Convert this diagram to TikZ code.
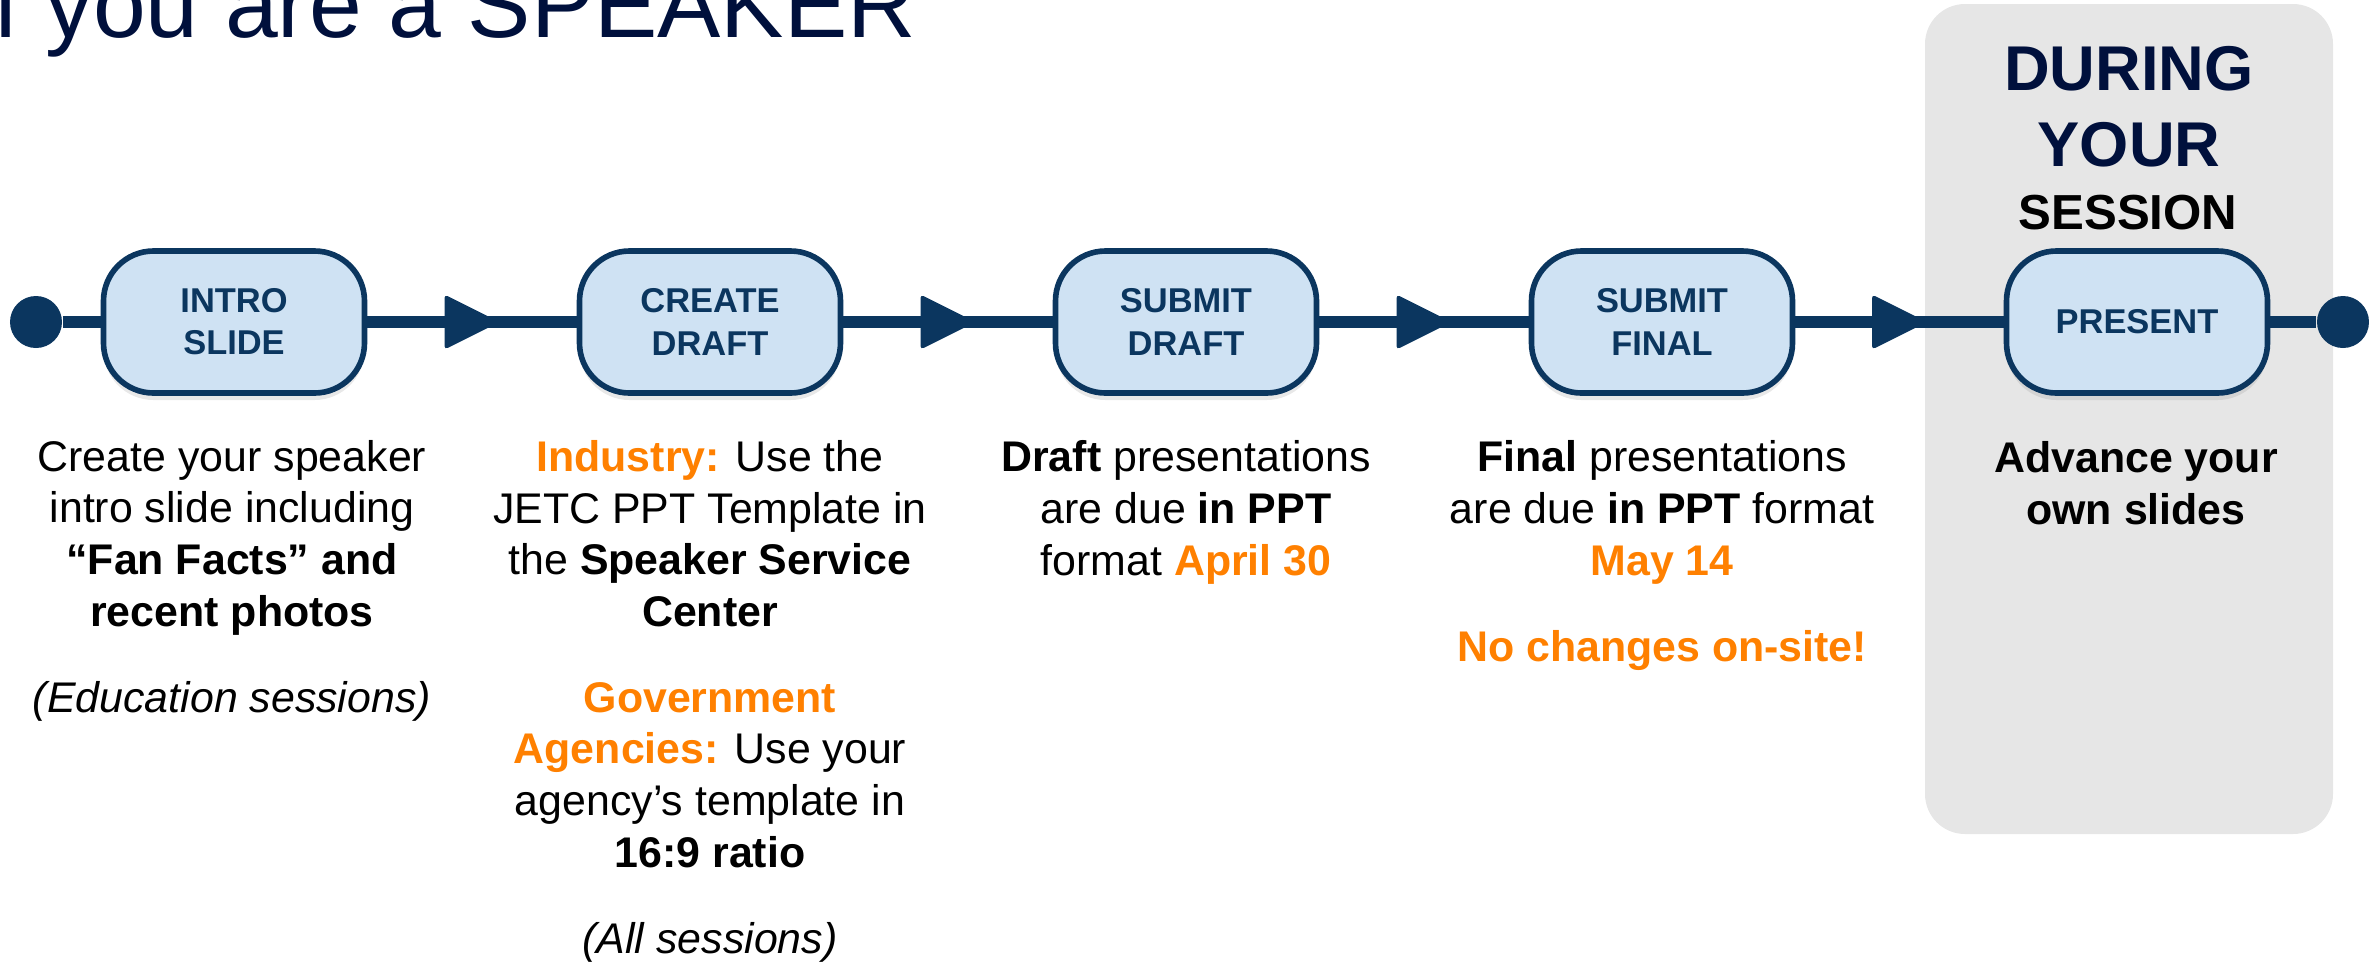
\documentclass[tikz,border=0pt]{standalone}
\usepackage{fontspec}
\setmainfont{Liberation Sans}
\usetikzlibrary{shadows,decorations.markings}
\definecolor{navy}{HTML}{0B365F}
\definecolor{boxfill}{HTML}{CFE2F3}
\definecolor{deadline}{HTML}{FF8000}
\definecolor{titlenavy}{HTML}{00103C}
\definecolor{panelgray}{HTML}{E6E6E6}

\begin{document}
\begin{tikzpicture}[
		stepbox/.style={draw=navy, line width=1.6pt, fill=boxfill, rounded corners=0.5cm, minimum width=2.61cm, minimum height=1.42cm, align=center, text=navy, font=\fontsize{9.8}{12}\selectfont\bfseries, drop shadow={shadow xshift=0cm, shadow yshift=-0.07cm, opacity=0.18}},
		enddot/.style={circle, fill=navy, minimum size=0.52cm, inner sep=0pt},
		track/.style={navy, line width=3.3pt},
		midarrow/.style={postaction={decorate}, decoration={markings, mark=at position 0.5 with {\fill[navy, rounded corners=1pt] (-0.275,-0.275) -- (0.275,0) -- (-0.275,0.275) -- cycle;}}},
		note/.style={align=center, anchor=base, inner sep=0pt, font=\fontsize{12.2}{14.7}\selectfont}]
		\useasboundingbox (0,0) rectangle (23.69,-9.66);
		\def\hi#1{{\color{deadline}\bfseries #1}}
		\fill[panelgray, rounded corners=0.4cm] (19.25,-0.04) rectangle (23.33,-8.34);
		\node[anchor=base west, inner sep=0pt, text=titlenavy, font=\fontsize{27}{32}\selectfont] (title) at (-0.34,-0.37) {If you are a SPEAKER};
		\node[align=center, anchor=base, inner sep=0pt, text=titlenavy, font=\fontsize{18}{21.6}\selectfont\bfseries] (during) at (21.29,-1.66) {DURING\\YOUR};
		\node[anchor=base, inner sep=0pt, font=\fontsize{14}{17}\selectfont\bfseries] (session) at (21.28,-2.29) {SESSION};
		\node[enddot] (dotL) at (0.36,-3.22) {};
		\node[enddot] (dotR) at (23.43,-3.22) {};
		\node[stepbox] (intro) at (2.34,-3.22) {INTRO\\SLIDE};
		\node[stepbox] (create) at (7.10,-3.22) {CREATE\\DRAFT};
		\node[stepbox] (subdraft) at (11.86,-3.22) {SUBMIT\\DRAFT};
		\node[stepbox] (subfinal) at (16.62,-3.22) {SUBMIT\\FINAL};
		\node[stepbox] (present) at (21.37,-3.22) {PRESENT};
		\draw[track] (dotL) -- (intro);
		\foreach \a/\b in {intro/create, create/subdraft, subdraft/subfinal, subfinal/present}
			\draw[track, midarrow] (\a) -- (\b);
		\draw[track] (present) -- (dotR);
		\node[note] (introtxt) at (2.32,-7.12) {Create your speaker\\intro slide including\\\textbf{“Fan Facts” and}\\\textbf{recent photos}\\[9.7pt]\textit{(Education sessions)}};
		\node[note] (createtxt) at (7.10,-9.53) {\hi{Industry:} Use the\\JETC PPT Template in\\the \textbf{Speaker Service}\\\textbf{Center}\\[9.7pt]\hi{Government}\\\hi{Agencies:} Use your\\agency’s template in\\\textbf{16:9 ratio}\\[9.7pt]\textit{(All sessions)}};
		\node[note] (drafttxt) at (11.86,-5.75) {\textbf{Draft} presentations\\are due \textbf{in PPT}\\format \hi{April 30}};
		\node[note] (finaltxt) at (16.62,-6.61) {\textbf{Final} presentations\\are due \textbf{in PPT} format\\\hi{May 14}\\[9.7pt]\hi{No changes on-site!}};
		\node[note] (presenttxt) at (21.36,-5.24) {\textbf{Advance your}\\\textbf{own slides}};
	\end{tikzpicture}
\end{document}
